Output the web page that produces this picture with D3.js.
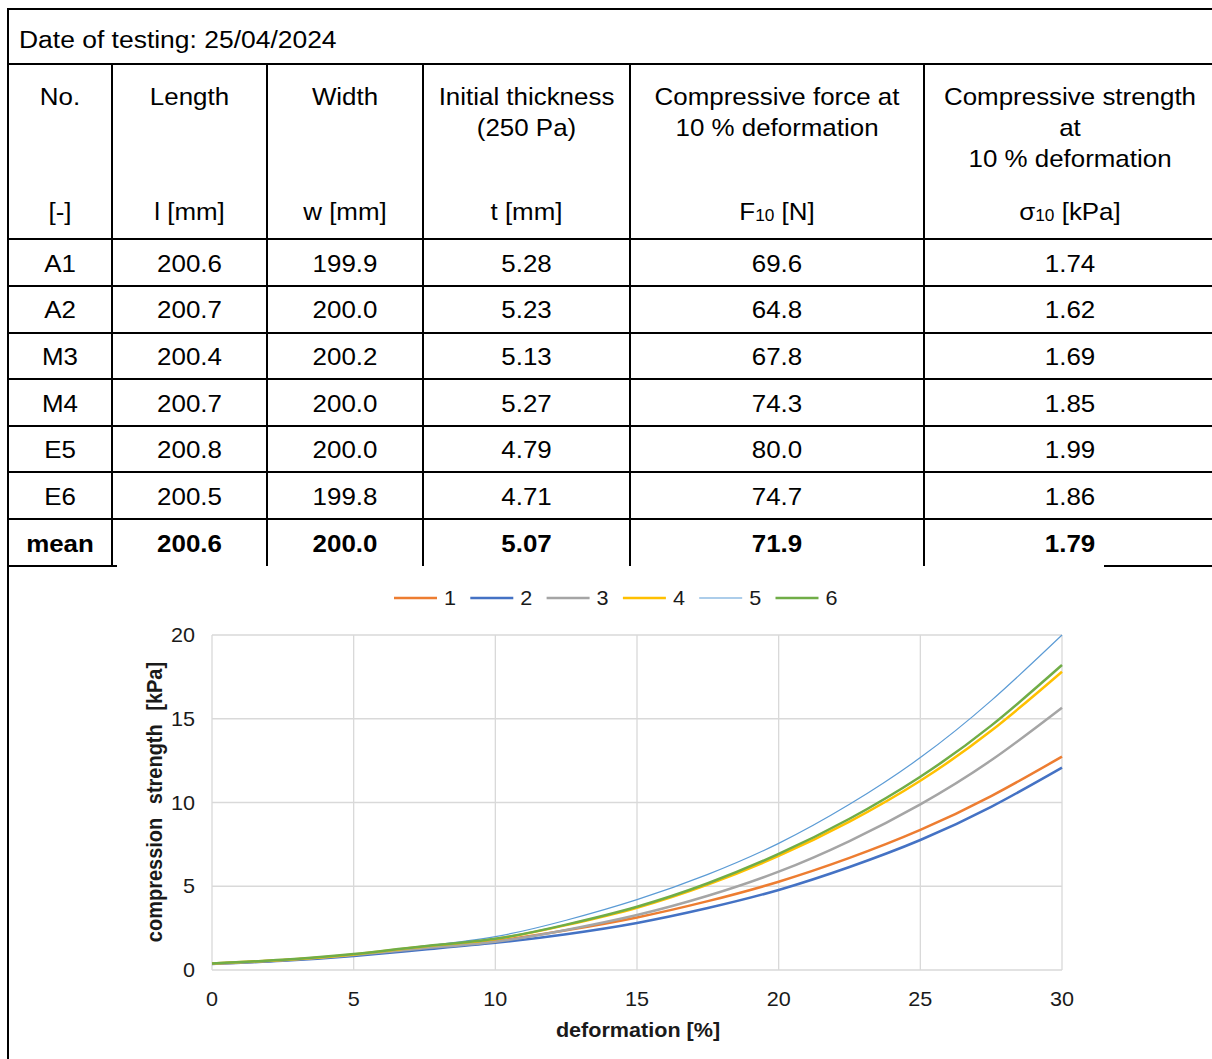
<!DOCTYPE html>
<html>
<head>
<meta charset="utf-8">
<script src="https://cdn.jsdelivr.net/npm/d3@7"></script>
<style>
  body { margin: 0; background: #fff; }
  svg { display: block; font-family: "Liberation Sans", Arial, sans-serif; }
</style>
</head>
<body>
<svg id="sheet" width="1212" height="1059"></svg>
<script>
// table data
const testDate = "Date of testing: 25/04/2024";
const headTitles = [["No."], ["Length"], ["Width"], ["Initial thickness", "(250 Pa)"],
  ["Compressive force at", "10 % deformation"], ["Compressive strength", "at", "10 % deformation"]];
const sampleIds = ["A1", "A2", "M3", "M4", "E5", "E6"];
const lengths = ["200.6", "200.7", "200.4", "200.7", "200.8", "200.5"];
const widths = ["199.9", "200.0", "200.2", "200.0", "200.0", "199.8"];
const thicknesses = ["5.28", "5.23", "5.13", "5.27", "4.79", "4.71"];
const forces = ["69.6", "64.8", "67.8", "74.3", "80.0", "74.7"];
const strengths = ["1.74", "1.62", "1.69", "1.85", "1.99", "1.86"];
const meanRow = ["mean", "200.6", "200.0", "5.07", "71.9", "1.79"];

// chart data (every 2.5 %)
const deformation = [0, 2.5, 5, 7.5, 10, 12.5, 15, 17.5, 20, 22.5, 25, 27.5, 30];
const series1 = [0.38, 0.58, 0.90, 1.32, 1.74, 2.37, 3.14, 4.11, 5.27, 6.69, 8.36, 10.38, 12.74];
const series2 = [0.36, 0.55, 0.84, 1.22, 1.62, 2.14, 2.81, 3.70, 4.78, 6.15, 7.76, 9.74, 12.08];
const series3 = [0.38, 0.58, 0.89, 1.30, 1.69, 2.39, 3.28, 4.43, 5.87, 7.70, 9.89, 12.52, 15.66];
const series4 = [0.39, 0.60, 0.93, 1.40, 1.85, 2.68, 3.72, 5.10, 6.81, 8.86, 11.30, 14.28, 17.81];
const series5 = [0.38, 0.60, 0.94, 1.42, 1.99, 2.97, 4.20, 5.71, 7.56, 9.89, 12.68, 16.08, 20.00];
const series6 = [0.39, 0.61, 0.95, 1.42, 1.86, 2.71, 3.78, 5.18, 6.93, 9.03, 11.54, 14.59, 18.21];
const seriesNames = ["1", "2", "3", "4", "5", "6"];
const xTicks = [0, 5, 10, 15, 20, 25, 30];
const yTicks = [0, 5, 10, 15, 20];

const colors = ["#ED7D31", "#4472C4", "#A5A5A5", "#FFC000", "#5B9BD5", "#70AD47"];
const strokeW = [2.5, 2.5, 2.5, 2.5, 1.2, 2.5];
const sx = 1.08; // text in the picture is a bit wider than Arial

const svg = d3.select("#sheet");

function txt(x, y, s, size, anchor, bold) {
  return svg.append("text")
    .attr("transform", `translate(${x},${y}) scale(${sx},1)`)
    .attr("text-anchor", anchor || "middle")
    .attr("font-size", size)
    .attr("font-weight", bold ? "bold" : null)
    .attr("fill", "#000")
    .text(s);
}

// ---------- table ----------
const colEdges = [8, 112, 267, 423, 630, 924, 1216];
const rowLines = [239, 286, 333, 379, 426, 472, 519];
const rowH = 46.7;
const line = (x1, y1, x2, y2) => svg.append("line")
  .attr("x1", x1).attr("y1", y1).attr("x2", x2).attr("y2", y2)
  .attr("stroke", "#000").attr("stroke-width", 2);

line(8, 9, 1216, 9);
line(8, 64, 1216, 64);
rowLines.forEach(y => line(8, y, 1216, y));
line(8, 566, 117, 566);
line(1104, 566, 1216, 566);
line(8, 8, 8, 1059);
colEdges.slice(1, -1).forEach(x => line(x, 64, x, 566));

txt(19, 48, testDate, 24.5, "start");

const colMid = i => (colEdges[i] + colEdges[i + 1]) / 2;
headTitles.forEach((lines, i) => {
  lines.forEach((s, j) => txt(colMid(i), 105 + j * 31, s, 24));
});

// units row
const unitY = 220;
txt(colMid(0), unitY, "[-]", 24);
txt(colMid(1), unitY, "l [mm]", 24);
txt(colMid(2), unitY, "w [mm]", 24);
txt(colMid(3), unitY, "t [mm]", 24);
const f10 = txt(colMid(4), unitY, "", 24);
f10.append("tspan").text("F");
f10.append("tspan").attr("font-size", 16).attr("dy", 1).text("10");
f10.append("tspan").attr("dy", -1).text(" [N]");
const s10 = txt(colMid(5), unitY, "", 24);
s10.append("tspan").text("σ");
s10.append("tspan").attr("font-size", 16).attr("dy", 1).text("10");
s10.append("tspan").attr("dy", -1).text(" [kPa]");

const cols = [sampleIds, lengths, widths, thicknesses, forces, strengths];
sampleIds.forEach((id, r) => {
  const y = 263 + r * rowH + 8.5;
  cols.forEach((c, i) => txt(colMid(i), y, c[r], 24));
});
meanRow.forEach((v, i) => txt(colMid(i), 263 + 6 * rowH + 8.5, v, 24, "middle", true));

// ---------- chart ----------
const x = d3.scaleLinear().domain([0, 30]).range([212, 1062]);
const y = d3.scaleLinear().domain([0, 20]).range([970, 635]);

const grid = svg.append("g");
grid.selectAll(".gx").data(xTicks).join("line")
  .attr("x1", d => x(d)).attr("x2", d => x(d)).attr("y1", y(0)).attr("y2", y(20))
  .attr("stroke", "#d9d9d9").attr("stroke-width", 1.3);
grid.selectAll(".gy").data(yTicks).join("line")
  .attr("x1", x(0)).attr("x2", x(30)).attr("y1", d => y(d)).attr("y2", d => y(d))
  .attr("stroke", "#d9d9d9").attr("stroke-width", 1.3);

yTicks.forEach(t => txt(x(0) - 17, y(t) + 7, t, 20, "end").attr("fill", "#1a1a1a"));
xTicks.forEach(t => txt(x(t), 1006, t, 20).attr("fill", "#1a1a1a"));

const allSeries = [series1, series2, series3, series4, series5, series6];
const lineGen = d3.line()
  .x((d, i) => x(deformation[i]))
  .y(d => y(d))
  .curve(d3.curveNatural);
allSeries.forEach((s, k) => {
  svg.append("path").datum(s)
    .attr("d", lineGen)
    .attr("fill", "none")
    .attr("stroke", colors[k])
    .attr("stroke-width", strokeW[k]);
});

// axis titles
txt(638, 1037, "deformation [%]", 20, "middle", true).attr("fill", "#1a1a1a");
svg.append("text")
  .attr("transform", `translate(162,802) scale(${sx},1) rotate(-90)`)
  .attr("text-anchor", "middle")
  .attr("font-size", 20)
  .attr("font-weight", "bold")
  .attr("word-spacing", 8)
  .attr("fill", "#1a1a1a")
  .text("compression strength [kPa]");

// legend
const legend = svg.append("g");
seriesNames.forEach((n, k) => {
  const lx = 394 + k * 76.3;
  legend.append("line")
    .attr("x1", lx).attr("x2", lx + 43).attr("y1", 598).attr("y2", 598)
    .attr("stroke", colors[k]).attr("stroke-width", strokeW[k]);
  txt(lx + 50, 605, n, 20, "start").attr("fill", "#1a1a1a");
});
</script>
</body>
</html>
